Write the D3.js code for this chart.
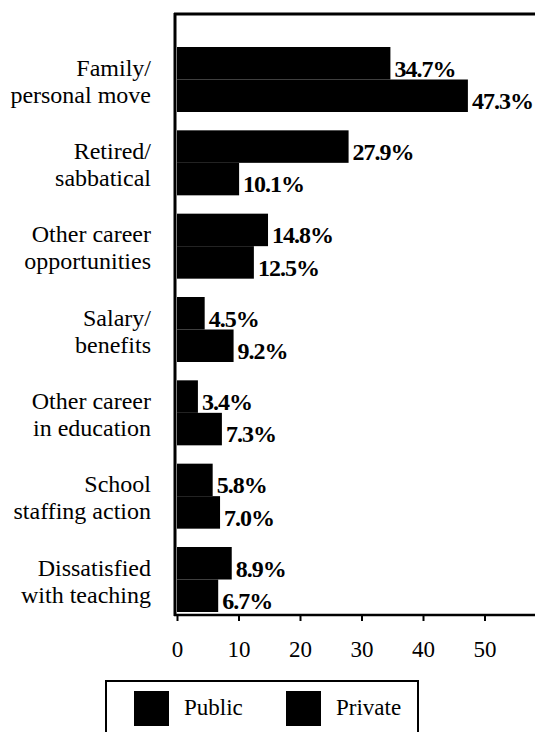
<!DOCTYPE html>
<html>
<head>
<meta charset="utf-8">
<script src="https://cdn.jsdelivr.net/npm/d3@7"></script>
<style>
  body { margin: 0; background: #fff; }
  svg { display: block; }
</style>
</head>
<body>
<script>
// categories, two lines each
var categories = [
  ["Family/", "personal move"],
  ["Retired/", "sabbatical"],
  ["Other career", "opportunities"],
  ["Salary/", "benefits"],
  ["Other career", "in education"],
  ["School", "staffing action"],
  ["Dissatisfied", "with teaching"]
];
var seriesNames = ["Public", "Private"];
var publicValues = [34.7, 27.9, 14.8, 4.5, 3.4, 5.8, 8.9];
var privateValues = [47.3, 10.1, 12.5, 9.2, 7.3, 7.0, 6.7];
var xTicks = [0, 10, 20, 30, 40, 50];

var svgwidth = 535, svgheight = 732;
var font = "'Liberation Serif', 'Times New Roman', serif";

var svg = d3.select("body").append("svg")
    .attr("width", svgwidth)
    .attr("height", svgheight);

var x = d3.scaleLinear().domain([0, 60]).range([177, 546]);
var y = d3.scaleBand().domain(d3.range(categories.length))
    .range([47, 612]).paddingInner(0.22).paddingOuter(0);
var ySub = d3.scaleBand().domain(seriesNames).range([0, y.bandwidth()]);

var data = [];
categories.forEach(function (c, i) {
  data.push({ cat: i, series: "Public", value: publicValues[i] });
  data.push({ cat: i, series: "Private", value: privateValues[i] });
});

// bars
svg.append("g").selectAll("rect")
    .data(data)
  .enter().append("rect")
    .attr("x", x(0))
    .attr("y", function (d) { return y(d.cat) + ySub(d.series); })
    .attr("width", function (d) { return x(d.value) - x(0); })
    .attr("height", ySub.bandwidth())
    .attr("fill", "#000");

// value labels, baseline just above the bar bottom
svg.append("g").selectAll("text")
    .data(data)
  .enter().append("text")
    .attr("x", function (d) { return x(d.value) + 4; })
    .attr("y", function (d) { return y(d.cat) + ySub(d.series) + ySub.bandwidth() - 3; })
    .attr("font-family", font)
    .attr("font-weight", "bold")
    .attr("font-size", 24)
    .attr("letter-spacing", -1)
    .text(function (d) { return d3.format(".1f")(d.value) + "%"; });

// frame: top and left
svg.append("line").attr("x1", 174).attr("x2", svgwidth).attr("y1", 14).attr("y2", 14)
    .attr("stroke", "#000").attr("stroke-width", 3);
svg.append("line").attr("x1", 175).attr("x2", 175).attr("y1", 13).attr("y2", 616)
    .attr("stroke", "#000").attr("stroke-width", 3);

// x axis
var xAxis = svg.append("g")
    .attr("transform", "translate(0,615)")
    .call(d3.axisBottom(x).tickValues(xTicks).tickSize(6).tickPadding(0));
xAxis.select(".domain").attr("stroke-width", 2.5).attr("d", "M174,0H" + svgwidth);
xAxis.selectAll(".tick line").attr("stroke-width", 2);
xAxis.selectAll(".tick text")
    .attr("font-family", font)
    .attr("font-size", 23)
    .attr("fill", "#000")
    .attr("dy", null)
    .attr("y", 42);

// category labels
var catLabels = svg.append("g").selectAll("text")
    .data(categories)
  .enter().append("text")
    .attr("text-anchor", "end")
    .attr("font-family", font)
    .attr("font-size", 24)
    .attr("fill", "#000");
catLabels.each(function (c, i) {
  var t = d3.select(this);
  var cy = y(i) + y.bandwidth() / 2;
  t.append("tspan").attr("x", 151).attr("y", cy - 4).text(c[0]);
  t.append("tspan").attr("x", 151).attr("y", cy + 23).text(c[1]);
});

// legend
var legend = svg.append("g");
legend.append("rect")
    .attr("x", 106).attr("y", 681).attr("width", 312).attr("height", 70)
    .attr("fill", "none").attr("stroke", "#000").attr("stroke-width", 2);
var legendX = [134, 286];
seriesNames.forEach(function (s, i) {
  legend.append("rect")
      .attr("x", legendX[i]).attr("y", 691)
      .attr("width", 35).attr("height", 35)
      .attr("fill", "#000");
  legend.append("text")
      .attr("x", legendX[i] + 50).attr("y", 715)
      .attr("font-family", font)
      .attr("font-size", 23)
      .text(s);
});
</script>
</body>
</html>
